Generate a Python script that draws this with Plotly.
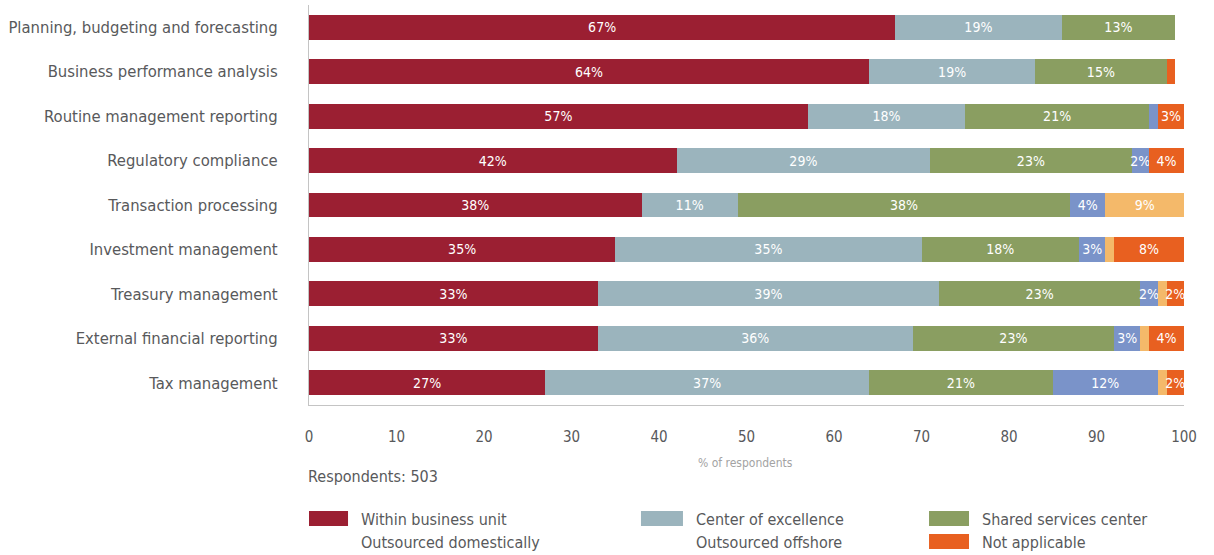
import plotly.graph_objects as go

# Business functions, top to bottom
categories = [
    "Planning, budgeting and forecasting",
    "Business performance analysis",
    "Routine management reporting",
    "Regulatory compliance",
    "Transaction processing",
    "Investment management",
    "Treasury management",
    "External financial reporting",
    "Tax management",
]

# % of respondents by delivery model
within_business_unit = [67, 64, 57, 42, 38, 35, 33, 33, 27]
center_of_excellence = [19, 19, 18, 29, 11, 35, 39, 36, 37]
shared_services_center = [13, 15, 21, 23, 38, 18, 23, 23, 21]
outsourced_domestically = [0, 0, 1, 2, 4, 3, 2, 3, 12]
outsourced_offshore = [0, 0, 0, 0, 9, 1, 1, 1, 1]
not_applicable = [0, 1, 3, 4, 0, 8, 2, 4, 2]

x_ticks = [0, 10, 20, 30, 40, 50, 60, 70, 80, 90, 100]

series = [
    ("Within business unit", within_business_unit, "#9b1f32"),
    ("Center of excellence", center_of_excellence, "#9bb4bd"),
    ("Shared services center", shared_services_center, "#8a9e61"),
    ("Outsourced domestically", outsourced_domestically, "#7a93c9"),
    ("Outsourced offshore", outsourced_offshore, "#f4b96a"),
    ("Not applicable", not_applicable, "#e86020"),
]

FONT = "DejaVu Sans Condensed, Liberation Sans Narrow, sans-serif"
TEXT_GREY = "#58595b"

fig = go.Figure()
for name, values, color in series:
    labels = [f"{v}%" if v >= 2 else "" for v in values]
    fig.add_trace(go.Bar(
        y=categories,
        x=values,
        name=name,
        orientation="h",
        marker=dict(color=color, line=dict(width=0)),
        width=0.56,
        text=labels,
        textposition="inside",
        insidetextanchor="middle",
        textangle=0,
        textfont=dict(family=FONT, size=14, color="white"),
        cliponaxis=False,
        showlegend=False,
    ))

fig.update_layout(
    width=1214,
    height=555,
    barmode="stack",
    plot_bgcolor="white",
    paper_bgcolor="white",
    margin=dict(l=309, r=30, t=5, b=150),
    font=dict(family=FONT, color=TEXT_GREY),
    uniformtext=dict(minsize=14, mode="show"),
    xaxis=dict(
        range=[0, 100],
        tickvals=x_ticks,
        ticktext=[str(t) for t in x_ticks],
        showgrid=False,
        zeroline=False,
        showline=True,
        linecolor="#c4c4c4",
        linewidth=1,
        ticks="outside",
        ticklen=0,
        ticklabelstandoff=18,
        tickfont=dict(family=FONT, size=15, color=TEXT_GREY),
        automargin=False,
        fixedrange=True,
    ),
    yaxis=dict(
        autorange="reversed",
        showgrid=False,
        zeroline=False,
        showline=True,
        linecolor="#c4c4c4",
        linewidth=1,
        ticks="outside",
        ticklen=0,
        ticklabelstandoff=27,
        tickfont=dict(family=FONT, size=16.5, color=TEXT_GREY),
        automargin=False,
        fixedrange=True,
    ),
)

# Axis caption and sample size
fig.add_annotation(
    text="% of respondents", xref="paper", yref="paper",
    x=0.4994, y=-0.145, xanchor="center", yanchor="middle",
    showarrow=False, font=dict(family=FONT, size=12, color="#a3a3a3"),
)
fig.add_annotation(
    text="Respondents: 503", xref="paper", yref="paper",
    x=-0.003, y=-0.1775, xanchor="left", yanchor="middle",
    showarrow=False, font=dict(family=FONT, size=16, color=TEXT_GREY),
)

# Legend laid out in three columns, two rows
legend_cols = [
    (0.0, 0.0446, 0.0576, ["Within business unit", "Outsourced domestically"], "#9b1f32"),
    (0.3794, 0.4274, 0.4404, ["Center of excellence", "Outsourced offshore"], "#9bb4bd"),
    (0.7086, 0.7543, 0.7673, ["Shared services center", "Not applicable"], "#8a9e61"),
]
row_y = [-0.285, -0.3425]
for x0, x1, tx, names, color in legend_cols:
    fig.add_shape(type="rect", xref="paper", yref="paper",
                  x0=x0, x1=x1, y0=-0.265, y1=-0.3025,
                  fillcolor=color, line=dict(width=0))
    for ty, label in zip(row_y, names):
        fig.add_annotation(
            text=label, xref="paper", yref="paper",
            x=tx, y=ty, xanchor="left", yanchor="middle",
            showarrow=False, font=dict(family=FONT, size=16, color=TEXT_GREY),
        )
fig.add_shape(type="rect", xref="paper", yref="paper",
              x0=0.7086, x1=0.7543, y0=-0.3225, y1=-0.36,
              fillcolor="#e86020", line=dict(width=0))

fig.write_html("out.html")
